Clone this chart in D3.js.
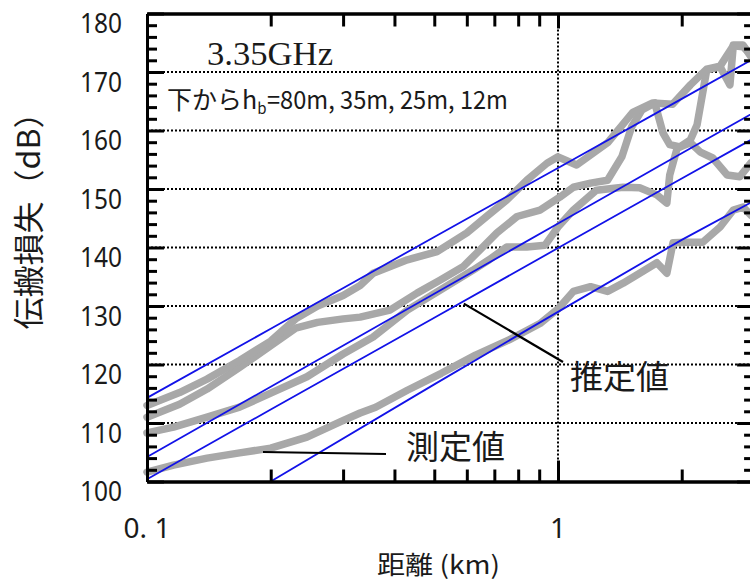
<!DOCTYPE html>
<html><head><meta charset="utf-8">
<script src="https://cdn.jsdelivr.net/npm/d3@7/dist/d3.min.js"></script>
<style>body{margin:0;background:#fff} svg{display:block}</style>
</head><body>
<svg id="c" width="750" height="580"></svg>
<script>
// ---- data ----
const lossMajorTicks = [100,110,120,130,140,150,160,170,180];
const lossMinorTicks = [102,104,106,108,112,114,116,118,122,124,126,128,132,134,136,138,142,144,146,148,152,154,156,158,162,164,166,168,172,174,176,178];
const lossGrid = [110,120,130,140,150,160,170];
const distLabelValues = [0.1, 1];
const distLabelTexts = ["0. 1", "1"];
const distMinorTicks = [0.2,0.3,0.4,0.5,0.6,0.7,0.8,0.9,2,3];
const distMajorTicks = [1];

// measured (gray)
const measDist12 = [0.1,0.12,0.14,0.168,0.2,0.23,0.26,0.3,0.33,0.355,0.43,0.508,0.6,0.67,0.75,0.84,0.94,1.0,1.11,1.32,1.52,1.7,1.9,2.1,2.3,2.48,2.67,2.82,2.95];
const measLoss12 = [113,115.2,117.5,120.7,124,127.8,130,131.8,133.5,135.6,137.9,139.3,142.5,145.3,148.1,151.5,154.4,155.5,154.1,157.9,163.1,164.7,164.5,167.8,170.5,171,174.5,174.3,173];

const measDist25 = [0.1,0.12,0.14,0.168,0.2,0.23,0.26,0.3,0.33,0.39,0.454,0.516,0.587,0.646,0.71,0.795,0.904,1.01,1.09,1.2,1.32,1.43,1.51,1.6,1.72,1.8,1.87,1.98,2.1,2.18,2.3,2.48,2.62,2.67,2.82,2.95];
const measLoss25 = [111,113.2,115.8,119.5,123.2,126.2,127.2,127.8,128.1,129.3,132.2,134.4,136.7,139.6,142.5,145.3,146.4,148.6,150.3,151,151.5,155.5,160.6,163.5,164.7,159.6,157.6,157.2,158.4,161,170.3,170.9,167.8,174.6,174.6,172.6];

const measDist35 = [0.1,0.116,0.14,0.168,0.2,0.245,0.3,0.355,0.43,0.516,0.62,0.68,0.75,0.84,0.93,1.0,1.09,1.24,1.44,1.58,1.74,1.84,1.87,1.95,2.1,2.22,2.38,2.58,2.77,2.95];
const measLoss35 = [108.3,109.3,111,112.7,115.1,117.9,121.8,124.7,129.3,132.7,136.1,137.9,140.1,140.1,140.4,143.5,146.4,149.8,150.3,150.2,149,147.6,152.4,157,157.9,156.3,155.3,152.4,152.1,154.5];

const measDist80 = [0.1,0.116,0.14,0.168,0.2,0.245,0.295,0.33,0.36,0.43,0.52,0.63,0.76,0.904,1.0,1.09,1.2,1.32,1.44,1.58,1.74,1.84,1.905,2.06,2.25,2.48,2.67,2.82,2.95];
const measLoss80 = [101.6,102.8,104,104.9,105.7,107.6,110.2,111.7,112.7,115.6,118.5,121.6,124.2,127,129.5,132.5,133.3,132.5,133.9,135.6,137.4,135.6,140.8,140.9,140.9,143.5,146.4,146.9,145.5];

// estimated (blue)
const estDist = [0.1,0.2,0.5,1,2,3];
const estLoss12 = [114.3,126.1,141.8,153.6,165.4,172.3];
const estLoss25 = [104.2,116.2,132.1,144.1,156.1,163.1];
const estLoss35 = [100.4,112.3,128.0,139.9,151.8,158.7];
const estDist80 = [0.2,0.5,1,2,3];
const estLoss80 = [100,116.6,129,141.3,148];

// ---- chart ----
const svg = d3.select("#c");
const X0 = 147, XDEC = 411;
const x = d3.scaleLog().domain([0.1, 3]).range([X0, X0 + XDEC*Math.log10(30)]);
const y = d3.scaleLinear().domain([100, 180]).range([481.5, 13.5]);
const [xL, xR] = x.range();
const [yB, yT] = y.range();

// grid
const grid = svg.append("g").attr("stroke","#000").attr("stroke-width",2).attr("stroke-dasharray","2,2");
grid.selectAll("line.h").data(lossGrid).join("line")
  .attr("x1", xL).attr("x2", xR).attr("y1", d=>y(d)).attr("y2", d=>y(d));
grid.append("line").attr("x1", x(1)).attr("x2", x(1)).attr("y1", yT).attr("y2", yB);

// series
const line = d3.line().x(d=>x(d[0])).y(d=>y(d[1]));
const zip = (a,b)=>a.map((v,i)=>[v,b[i]]);
const meas = [[measDist80,measLoss80],[measDist35,measLoss35],[measDist25,measLoss25],[measDist12,measLoss12]];
svg.append("g").selectAll("path").data(meas).join("path")
  .attr("d", d=>line(zip(d[0],d[1])))
  .attr("fill","none").attr("stroke","#a8a8a8").attr("stroke-width",7.5)
  .attr("stroke-linejoin","round").attr("stroke-linecap","round");
const est = [[estDist,estLoss12],[estDist,estLoss25],[estDist,estLoss35],[estDist80,estLoss80]];
svg.append("g").selectAll("path").data(est).join("path")
  .attr("d", d=>line(zip(d[0],d[1])))
  .attr("fill","none").attr("stroke","#1212e8").attr("stroke-width",1.8);

// axes
function styleAxis(g){ g.selectAll("path.domain").attr("stroke","#000").attr("stroke-width",3);
  g.selectAll(".tick line").attr("stroke","#000").attr("stroke-width",3);
  g.selectAll(".tick text").remove(); }
svg.append("g").attr("transform",`translate(${xL},0)`).call(d3.axisRight(y).tickValues(lossMajorTicks).tickSize(17).tickSizeOuter(0)).call(styleAxis);
svg.append("g").attr("transform",`translate(${xL},0)`).call(d3.axisRight(y).tickValues(lossMinorTicks).tickSize(10).tickSizeOuter(0)).call(styleAxis);
svg.append("g").attr("transform",`translate(${xR},0)`).call(d3.axisLeft(y).tickValues(lossMajorTicks).tickSize(17).tickSizeOuter(0)).call(styleAxis);
svg.append("g").attr("transform",`translate(${xR},0)`).call(d3.axisLeft(y).tickValues(lossMinorTicks).tickSize(10).tickSizeOuter(0)).call(styleAxis);
svg.append("g").attr("transform",`translate(0,${yT})`).call(d3.axisBottom(x).tickValues(distMinorTicks).tickSize(13).tickSizeOuter(0)).call(styleAxis);
svg.append("g").attr("transform",`translate(0,${yT})`).call(d3.axisBottom(x).tickValues(distMajorTicks).tickSize(15).tickSizeOuter(0)).call(styleAxis);
svg.append("g").attr("transform",`translate(0,${yB})`).call(d3.axisTop(x).tickValues(distMinorTicks).tickSize(12).tickSizeOuter(0)).call(styleAxis);
svg.append("g").attr("transform",`translate(0,${yB})`).call(d3.axisTop(x).tickValues(distMajorTicks).tickSize(21).tickSizeOuter(0)).call(styleAxis);

// tick labels
const numFont = "'Liberation Sans Narrow','Noto Sans',sans-serif";
svg.append("g").selectAll("text").data(lossMajorTicks).join("text")
  .attr("x", 122).attr("y", d=>y(d)+19.5).attr("text-anchor","end")
  .attr("font-family", numFont).attr("font-size", 28).attr("fill","#1a1a1a")
  .attr("textLength", 42).attr("lengthAdjust","spacingAndGlyphs").text(d=>d);
svg.append("g").selectAll("text").data(distLabelValues).join("text")
  .attr("x", d=>x(d)).attr("y", 538).attr("text-anchor","middle")
  .attr("font-family", numFont).attr("font-size", 28).attr("fill","#1a1a1a")
  .text((d,i)=>distLabelTexts[i]);

// titles
const jp = "'Noto Sans CJK JP','Noto Sans CJK SC',sans-serif";
svg.append("text").attr("transform","translate(40,213) rotate(-90)").attr("text-anchor","middle")
  .attr("font-family", jp).attr("font-size", 31).attr("fill","#1a1a1a")
  .attr("textLength", 233).attr("lengthAdjust","spacingAndGlyphs").text("伝搬損失（dB）");
svg.append("text").attr("x", 377).attr("y", 574).attr("font-family", jp).attr("font-size", 25).attr("fill","#1a1a1a")
  .attr("textLength", 123).attr("lengthAdjust","spacingAndGlyphs").text("距離 (km)");

// annotations inside
svg.append("text").attr("x", 207).attr("y", 65).attr("font-family","'Liberation Serif','DejaVu Serif',serif")
  .attr("font-size", 33).attr("fill","#1a1a1a").attr("textLength",126).attr("lengthAdjust","spacingAndGlyphs").text("3.35GHz");
const t2 = svg.append("text").attr("y", 109).attr("font-family", jp).attr("font-size", 25).attr("fill","#1a1a1a");
t2.append("tspan").attr("x",167).text("下からh");
t2.append("tspan").attr("font-size",15).attr("dy",5).text("b");
svg.append("text").attr("x", 267).attr("y", 109).attr("font-family", jp).attr("font-size", 25).attr("fill","#1a1a1a")
  .attr("textLength",241).attr("lengthAdjust","spacingAndGlyphs").text("=80m, 35m, 25m, 12m");

svg.append("line").attr("x1",x(0.59)).attr("y1",y(130.4)).attr("x2",563).attr("y2",362).attr("stroke","#000").attr("stroke-width",2.2);
svg.append("text").attr("x",570).attr("y",389).attr("font-family", jp).attr("font-size", 33).attr("fill","#1a1a1a").text("推定値");
svg.append("line").attr("x1",263).attr("y1",452).attr("x2",386).attr("y2",454).attr("stroke","#000").attr("stroke-width",2.2);
svg.append("text").attr("x",406).attr("y",459).attr("font-family", jp).attr("font-size", 33).attr("fill","#1a1a1a").text("測定値");
</script>
</body></html>
